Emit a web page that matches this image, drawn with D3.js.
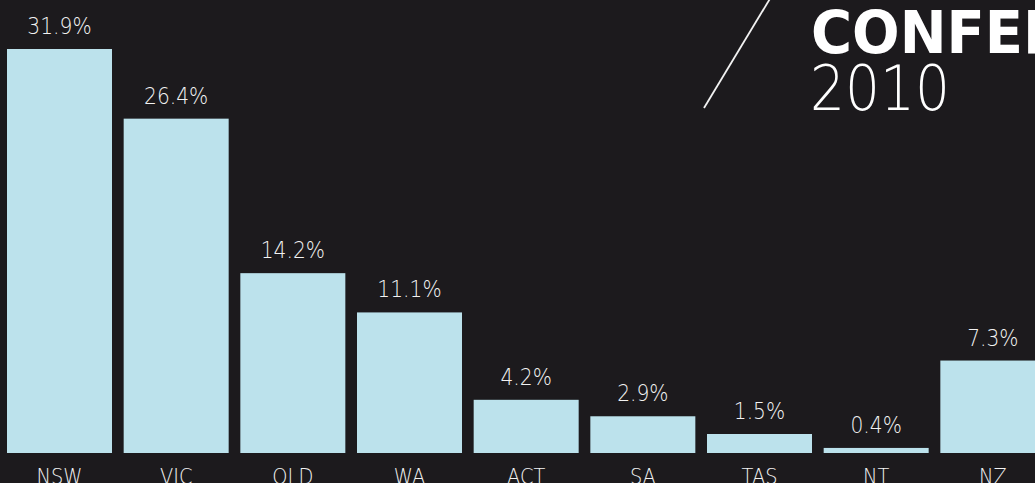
<!DOCTYPE html>
<html>
<head>
<meta charset="utf-8">
<script src="https://cdn.jsdelivr.net/npm/d3@7"></script>
<style>
  html, body { margin: 0; padding: 0; background: #1c1a1d; overflow: hidden; }
  svg { display: block; }
</style>
</head>
<body>
<svg id="chart"></svg>
<script>
const categories = ["NSW", "VIC", "QLD", "WA", "ACT", "SA", "TAS", "NT", "NZ"];
const shares = [31.9, 26.4, 14.2, 11.1, 4.2, 2.9, 1.5, 0.4, 7.3];
const titleLines = ["CONFERENCE", "2010"];

const size = { width: 1035, height: 483 };
const baseline = 453;

const svg = d3.select("#chart")
  .attr("width", size.width)
  .attr("height", size.height);

svg.append("rect")
  .attr("width", size.width)
  .attr("height", size.height)
  .attr("fill", "#1c1a1d");

// band scale, step of ~116.7px, last bar runs off the right edge
const x = d3.scaleBand()
  .domain(categories)
  .range([1.17, 1051.17])
  .paddingInner(0.1)
  .paddingOuter(0.05);

const y = d3.scaleLinear()
  .domain([0, 31.9])
  .range([baseline, 49]);

const data = categories.map((c, i) => ({ cat: c, value: shares[i] }));

svg.append("g")
  .selectAll("rect")
  .data(data)
  .join("rect")
  .attr("x", d => x(d.cat))
  .attr("y", d => y(d.value))
  .attr("width", x.bandwidth())
  .attr("height", d => baseline - y(d.value))
  .attr("fill", "#bce2ec");

const labelFont = "'DejaVu Sans', sans-serif";
const squeeze = 0.88; // reference face is narrower than DejaVu

// value labels above bars
svg.append("g")
  .selectAll("text")
  .data(data)
  .join("text")
  .attr("transform", d => `translate(${ x(d.cat) + x.bandwidth() / 2 },${ y(d.value) - 15 }) scale(${ squeeze },1)`)
  .attr("text-anchor", "middle")
  .style("font-family", labelFont)
  .style("font-weight", 200)
  .style("font-size", "23px")
  .attr("fill", "#f2f2f2")
  .text(d => d.value.toFixed(1) + "%");

// category labels along the bottom (partly cut by the edge, as in the original)
svg.append("g")
  .selectAll("text")
  .data(data)
  .join("text")
  .attr("transform", d => `translate(${ x(d.cat) + x.bandwidth() / 2 },484) scale(${ squeeze },1)`)
  .attr("text-anchor", "middle")
  .style("font-family", labelFont)
  .style("font-weight", 200)
  .style("font-size", "22px")
  .attr("fill", "#f2f2f2")
  .text(d => d.cat);

// decoration: slash and title block in the corner
svg.append("line")
  .attr("x1", 704).attr("y1", 108)
  .attr("x2", 771).attr("y2", -3)
  .attr("stroke", "#f2f2f2")
  .attr("stroke-width", 1.8);

const title = svg.append("text")
  .style("font-family", "'DejaVu Sans', sans-serif")
  .style("font-weight", 700)
  .style("font-size", "58px")
  .attr("fill", "#ffffff")
  .text(titleLines[0]);

// stretch so "CONFE" reaches ~1005px like the reference
const sx = 212 / title.node().getSubStringLength(0, 5);
title.attr("transform", `translate(811,53) scale(${ sx },1)`);

const year = svg.append("text")
  .style("font-family", "'DejaVu Sans', sans-serif")
  .style("font-weight", 200)
  .style("font-size", "62px")
  .attr("fill", "#ffffff")
  .text(titleLines[1]);

const yx = 140 / year.node().getComputedTextLength();
year.attr("transform", `translate(810,110) scale(${ yx },1)`);
</script>
</body>
</html>
